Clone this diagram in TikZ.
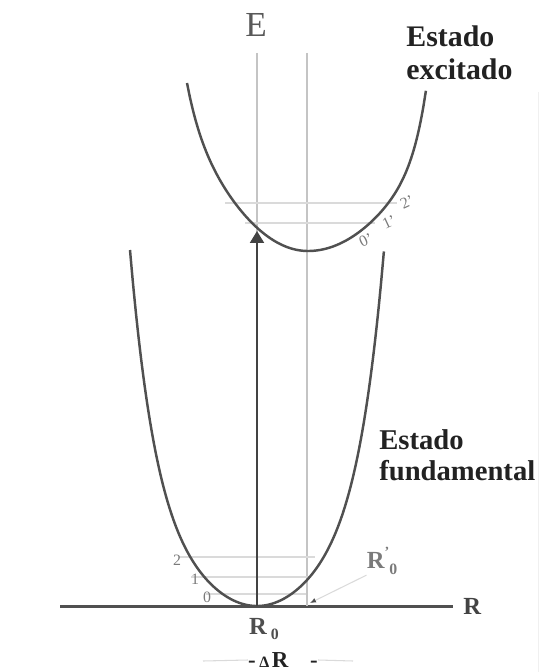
\documentclass[tikz,border=0pt]{standalone}
\usepackage{fontspec}
\setmainfont{Liberation Serif}
\usepackage{tikz}
\usetikzlibrary{arrows.meta,positioning,calc}
\definecolor{ink}{HTML}{222222}
\definecolor{wire}{HTML}{505050}
\definecolor{guidegray}{HTML}{C4C4C4}
\definecolor{faint}{HTML}{DADADA}
\definecolor{numgray}{HTML}{7A7A7A}

\begin{document}
\begin{tikzpicture}[x=0.02cm,y=-0.02cm,
  pot/.style={draw=wire,line width=1.4pt},
  guide/.style={draw=guidegray,line width=0.8pt},
  vib/.style={draw=faint,line width=0.6pt},
  vibnum/.style={text=numgray,font=\fontsize{9}{9}\selectfont,inner sep=0pt},
  statelab/.style={text=ink,font=\fontsize{17}{19}\selectfont\bfseries,align=left,inner sep=0pt,anchor=west}]
\useasboundingbox (0,0) rectangle (540,672);
% --- axes and guides --------------------------------------------------
\coordinate (org) at (60,606);
\coordinate (axend) at (453,606);
\draw[draw=wire,line width=1.7pt] (org) -- (axend);
\node[right=0.2cm of axend,inner sep=0pt,text=ink!85,font=\fontsize{14}{14}\selectfont\bfseries] (raxis) {R};
\node[text=ink!75,font=\fontsize{20}{20}\selectfont] (elab) at (256,25) {E};
\foreach \gx in {257,307} \draw[guide] (\gx,53) -- (\gx,606);
% --- vibrational levels ----------------------------------------------
\foreach \yy/\a/\b in {557/179/315, 577/191/310, 594/206/306} \draw[vib] (\a,\yy) -- (\b,\yy);
\foreach \yy/\a/\b in {203/225/397, 223/245/375} \draw[vib] (\a,\yy) -- (\b,\yy);
\foreach \n/\lx/\ly in {2/177/560, 1/195/579, 0/207/597} \node[vibnum] (g\n) at (\lx,\ly) {\n};
\foreach \n/\lx/\ly in {2/407/202, 1/389/222, 0/366/240} \node[vibnum,rotate=25] (x\n) at (\lx,\ly) {\n'};
% --- potential curves (ground symmetric, excited a bit lopsided) -------
\draw[pot] plot[domain=-1:1,samples=90,smooth] ({257+127*\x},{606-163*(\x*\x)-193*(\x*\x*\x*\x*\x*\x)});
\draw[pot] plot[domain=-1:1,samples=90,smooth]
  ({308+(\x<0?121:118)*\x},{251-(\x<0?131:101)*(\x*\x)-(\x<0?37:60)*(\x*\x)^5});
% --- transition -------------------------------------------------------
\coordinate (r0) at (257,606);
\coordinate (vtop) at (257,231);
\draw[-{Triangle[length=2.4mm,width=2.8mm]},line width=1.2pt,draw=ink!85] (r0) -- (vtop);
% --- labels -----------------------------------------------------------
\node[text=ink!80,font=\fontsize{14}{14}\selectfont\bfseries,inner sep=0pt] (rzero) at (264,629)
  {R\,\raisebox{-0.4ex}{\fontsize{9}{9}\selectfont 0}};
\node[text=numgray,font=\fontsize{14}{14}\selectfont\bfseries,inner sep=0pt] (rzerop) at (382,561)
  {R\raisebox{1.1ex}{\fontsize{8}{8}\selectfont '}\raisebox{-0.5ex}{\fontsize{9}{9}\selectfont 0}};
\coordinate (rpfoot) at (310,603);
\draw[draw=faint,line width=0.6pt,-{Latex[length=1.2mm,width=1mm,color=ink!80]}] (rzerop.south west) -- (rpfoot);
\node[text=ink,font=\fontsize{13}{13}\selectfont\bfseries,inner sep=0pt] (dr) at (283,660)
  {-\hspace{2pt}{\fontsize{9}{9}\selectfont Δ}\hspace{1.5pt}R\hspace{12.5pt}-};
\coordinate (drl) at (203,661);
\coordinate (drr) at (353,661);
\draw[vib] (drl) -- (dr.west);
\draw[vib] (dr.east) -- (drr);
\node[statelab] (excit) at (406,53) {Estado\\excitado};
\node[statelab,font=\fontsize{16.3}{17.6}\selectfont\bfseries] (fund) at (379,455) {Estado\\fundamental};
\draw[draw=black!6,line width=0.8pt] (538.5,92) -- (538.5,672);
\end{tikzpicture}
\end{document}
